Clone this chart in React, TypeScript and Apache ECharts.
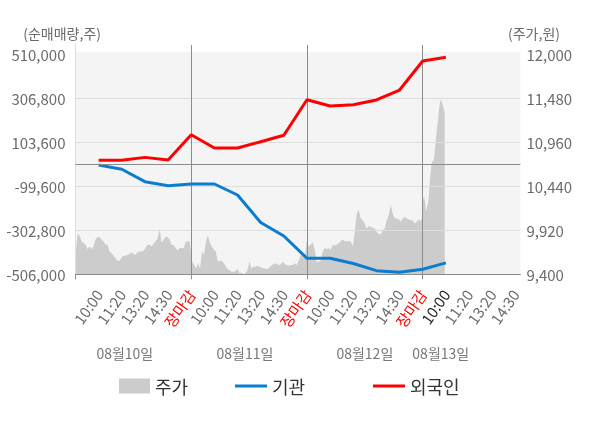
import { useEffect, useRef } from 'react';
import * as echarts from 'echarts';

// x-axis time labels (one per slot, value = index + 1)
const TIME_LABELS = [
  '10:00', '11:20', '13:20', '14:30', '장마감',
  '10:00', '11:20', '13:20', '14:30', '장마감',
  '10:00', '11:20', '13:20', '14:30', '장마감',
  '10:00', '11:20', '13:20', '14:30',
];
const TIME_LABEL_POS = TIME_LABELS.map((_, i) => i + 1);
const DAY_BREAKS = [0, 5, 10, 15];

const DATE_LABELS = ['08월10일', '08월11일', '08월12일', '08월13일'];
const DATE_LABEL_POS = [2.13, 7.32, 12.5, 15.78];

const LEFT_AXIS_NAME = '(순매매량,주)';
const RIGHT_AXIS_NAME = '(주가,원)';

// net buying volume (shares) at each labelled time
const FLOW_POS = [1, 2, 3, 4, 5, 6, 7, 8, 9, 10, 11, 12, 13, 14, 15, 16];
const INSTITUTION = [
  -1200, -21100, -78300, -96800, -89000, -89000, -139800, -266700,
  -329100, -432100, -432100, -456100, -489300, -496300, -482400, -453300,
];
const FOREIGN = [
  20500, 20500, 34000, 22000, 138700, 77300, 77300, 106400,
  135900, 300300, 271300, 277300, 299000, 345100, 479100, 496200,
];

// intraday price (won), per day
const PRICE_DAY1 = [
  9610, 9880, 9860, 9790, 9770, 9750, 9700, 9730, 9700, 9730,
  9810, 9840, 9840, 9810, 9790, 9750, 9750, 9670, 9650, 9620,
  9590, 9560, 9560, 9600, 9620, 9620, 9630, 9640, 9660, 9640,
  9630, 9660, 9670, 9670, 9680, 9710, 9750, 9750, 9730, 9760,
  9790, 9820, 9940, 9770, 9810, 9840, 9840, 9810, 9750, 9750,
  9710, 9680, 9710, 9710, 9710, 9780, 9790, 9790,
];
const PRICE_DAY2 = [
  9550, 9510, 9470, 9530, 9470, 9670, 9630, 9790, 9860, 9770,
  9730, 9690, 9670, 9550, 9560, 9560, 9530, 9500, 9460, 9450,
  9430, 9430, 9440, 9470, 9410, 9420, 9400, 9410, 9450, 9550,
  9470, 9490, 9490, 9500, 9490, 9480, 9470, 9470, 9460, 9480,
  9500, 9520, 9530, 9520, 9510, 9520, 9550, 9520, 9510, 9500,
  9510, 9510, 9530, 9510, 9560, 9630, 9610, 9590,
];
const PRICE_DAY3 = [
  9790, 9730, 9750, 9780, 9690, 9540, 9550, 9560, 9670, 9710,
  9700, 9710, 9690, 9750, 9740, 9750, 9770, 9790, 9810, 9790,
  9790, 9790, 9790, 9730, 9900, 10120, 10160, 10060, 10040, 10000,
  9940, 9970, 9960, 9950, 9940, 9900, 9880, 9870, 9920, 9940,
  10040, 10100, 10220, 10120, 10060, 10060, 10050, 10020, 10060, 10080,
  10060, 10050, 10040, 10040, 10000, 10020, 10050, 10030, 10080,
];
const PRICE_DAY4 = [
  10300, 10310, 10240, 10140, 10200, 10240, 10360, 10530, 10650, 10730,
  10740, 10750, 10870, 10990, 11110, 11200, 11340, 11420, 11470, 11440,
  11400, 11360, 11310,
];
const PRICE_DAY_START = [0, 5.04, 9.99, 15.02];
const PRICE_DAY_END = [4.93, 9.9, 15.0, 15.95];

const LEFT_LABELS = [-506000, -302800, -99600, 103600, 306800, 510000];
const LEFT_GRIDLINES = [-302800, -99600, 103600, 306800];
const RIGHT_LABELS = [9400, 9920, 10440, 10960, 11480, 12000];

const FONT = "'Noto Sans CJK KR', 'Noto Sans', sans-serif";
const RED = '#ff0000';
const BLUE = '#0b7dd0';
const DARK_LINE = '#8c8c8c';
const AXIS_TEXT = '#6b6b6b';

function buildPrice(): [number, number][] {
  const days = [PRICE_DAY1, PRICE_DAY2, PRICE_DAY3, PRICE_DAY4];
  const out: [number, number][] = [];
  days.forEach((vals, d) => {
    const s = PRICE_DAY_START[d];
    const e = PRICE_DAY_END[d];
    vals.forEach((v, i) => {
      out.push([s + ((e - s) * i) / (vals.length - 1), v]);
    });
  });
  return out;
}

export default function App() {
  const ref = useRef<HTMLDivElement>(null);

  useEffect(() => {
    if (!ref.current) return;
    const chart = echarts.init(ref.current, undefined, { renderer: 'svg' });
    const lastFlow = FLOW_POS[FLOW_POS.length - 1];
    const fmt = (v: number) => Math.round(v).toLocaleString('en-US');
    const legendText = { fontSize: 18, color: '#333333', fontFamily: FONT };

    const option: any = {
      animation: false,
      textStyle: { fontFamily: FONT },
      grid: [
        { left: 75.5, right: 79.6, top: 45, bottom: 153.7, show: false },
        {
          left: 75.5, right: 79.6, top: 51.7, bottom: 153.7, show: true,
          backgroundColor: '#f4f4f4', borderWidth: 0, z: -2,
        },
      ],
      graphic: [
        {
          type: 'text', x: 101, y: 33,
          style: {
            text: LEFT_AXIS_NAME, fill: AXIS_TEXT, font: `14px ${FONT}`,
            align: 'right', verticalAlign: 'middle',
          },
        },
        {
          type: 'text', x: 508, y: 33,
          style: {
            text: RIGHT_AXIS_NAME, fill: AXIS_TEXT, font: `14px ${FONT}`,
            align: 'left', verticalAlign: 'middle',
          },
        },
      ],
      xAxis: [
        {
          type: 'value', gridIndex: 0, min: 0, max: 19.22, position: 'bottom',
          axisLine: { show: true, onZero: false, lineStyle: { color: DARK_LINE, width: 1 } },
          axisTick: { show: true, customValues: DAY_BREAKS, length: 5, lineStyle: { color: DARK_LINE } },
          splitLine: { show: true, lineStyle: { color: DARK_LINE, width: 1 } },
          axisLabel: {
            customValues: TIME_LABEL_POS,
            rotate: 55,
            margin: 17,
            fontSize: 15,
            color: AXIS_TEXT,
            fontFamily: FONT,
            formatter: (v: number) => {
              const idx = Math.round(v);
              const t = TIME_LABELS[idx - 1] ?? '';
              if (t === '장마감') return `{close|${t}}`;
              if (idx === lastFlow) return `{now|${t}}`;
              return t;
            },
            rich: {
              close: { color: RED, fontSize: 15, fontFamily: FONT },
              now: { color: '#222222', fontSize: 15, fontFamily: FONT },
            },
          },
        },
        {
          type: 'value', gridIndex: 0, min: 0, max: 19.22, position: 'bottom', offset: 64,
          axisLine: { show: false }, axisTick: { show: false }, splitLine: { show: false },
          axisLabel: {
            customValues: DATE_LABEL_POS,
            margin: 8,
            fontSize: 14,
            color: '#777777',
            fontFamily: FONT,
            formatter: (v: number) => {
              const i = DATE_LABEL_POS.findIndex((p) => Math.abs(p - v) < 1e-6);
              return i >= 0 ? DATE_LABELS[i] : '';
            },
          },
        },
        { type: 'value', gridIndex: 1, show: false, min: 0, max: 1 },
      ],
      yAxis: [
        {
          type: 'value', gridIndex: 0, position: 'left', min: -506000, max: 552950,
          axisLine: { show: true, lineStyle: { color: DARK_LINE, width: 1 } },
          axisTick: { show: false, customValues: LEFT_GRIDLINES },
          splitLine: { show: true, lineStyle: { color: '#dddddd', width: 1 } },
          axisLabel: {
            customValues: LEFT_LABELS, margin: 10, fontSize: 15, color: AXIS_TEXT, fontFamily: FONT,
            formatter: fmt,
          },
        },
        {
          type: 'value', gridIndex: 0, position: 'right', min: 9400, max: 12110,
          axisLine: { show: true, lineStyle: { color: '#dddddd', width: 1 } },
          axisTick: { show: false, customValues: RIGHT_LABELS },
          splitLine: { show: false },
          axisLabel: {
            customValues: RIGHT_LABELS, margin: 6, fontSize: 15, color: AXIS_TEXT, fontFamily: FONT,
            formatter: fmt,
          },
        },
        { type: 'value', gridIndex: 1, show: false, min: 0, max: 1 },
      ],
      legend: [
        {
          left: 114, top: 372, itemWidth: 31, itemHeight: 15, selectedMode: false,
          data: [{ name: '주가', icon: 'rect' }],
          textStyle: legendText,
        },
        {
          left: 230, top: 372, itemWidth: 32, itemHeight: 3, selectedMode: false,
          data: [{ name: '기관', icon: 'rect' }],
          textStyle: legendText,
        },
        {
          left: 368, top: 372, itemWidth: 32, itemHeight: 3, selectedMode: false,
          data: [{ name: '외국인', icon: 'rect' }],
          textStyle: legendText,
        },
      ],
      series: [
        {
          name: '주가', type: 'line', xAxisIndex: 0, yAxisIndex: 1,
          data: buildPrice(), symbol: 'none', showSymbol: false, silent: true,
          lineStyle: { width: 0 }, itemStyle: { color: '#cccccc' },
          areaStyle: { color: '#cccccc', opacity: 1 }, z: -1,
        },
        {
          name: '기관', type: 'line', xAxisIndex: 0, yAxisIndex: 0,
          data: INSTITUTION.map((v, i) => [FLOW_POS[i], v]),
          symbol: 'none', showSymbol: false,
          lineStyle: { color: BLUE, width: 3 }, itemStyle: { color: BLUE }, z: 3,
          markLine: {
            silent: true, symbol: 'none', label: { show: false },
            lineStyle: { color: DARK_LINE, width: 1, type: 'solid' },
            data: [{ yAxis: 0 }],
          },
        },
        {
          name: '외국인', type: 'line', xAxisIndex: 0, yAxisIndex: 0,
          data: FOREIGN.map((v, i) => [FLOW_POS[i], v]),
          symbol: 'none', showSymbol: false,
          lineStyle: { color: RED, width: 3 }, itemStyle: { color: RED }, z: 4,
        },
      ],
    };

    chart.setOption(option);
    return () => chart.dispose();
  }, []);

  return (
    <div
      ref={ref}
      style={{ position: 'fixed', left: 0, top: 0, width: 600, height: 428 }}
    />
  );
}
